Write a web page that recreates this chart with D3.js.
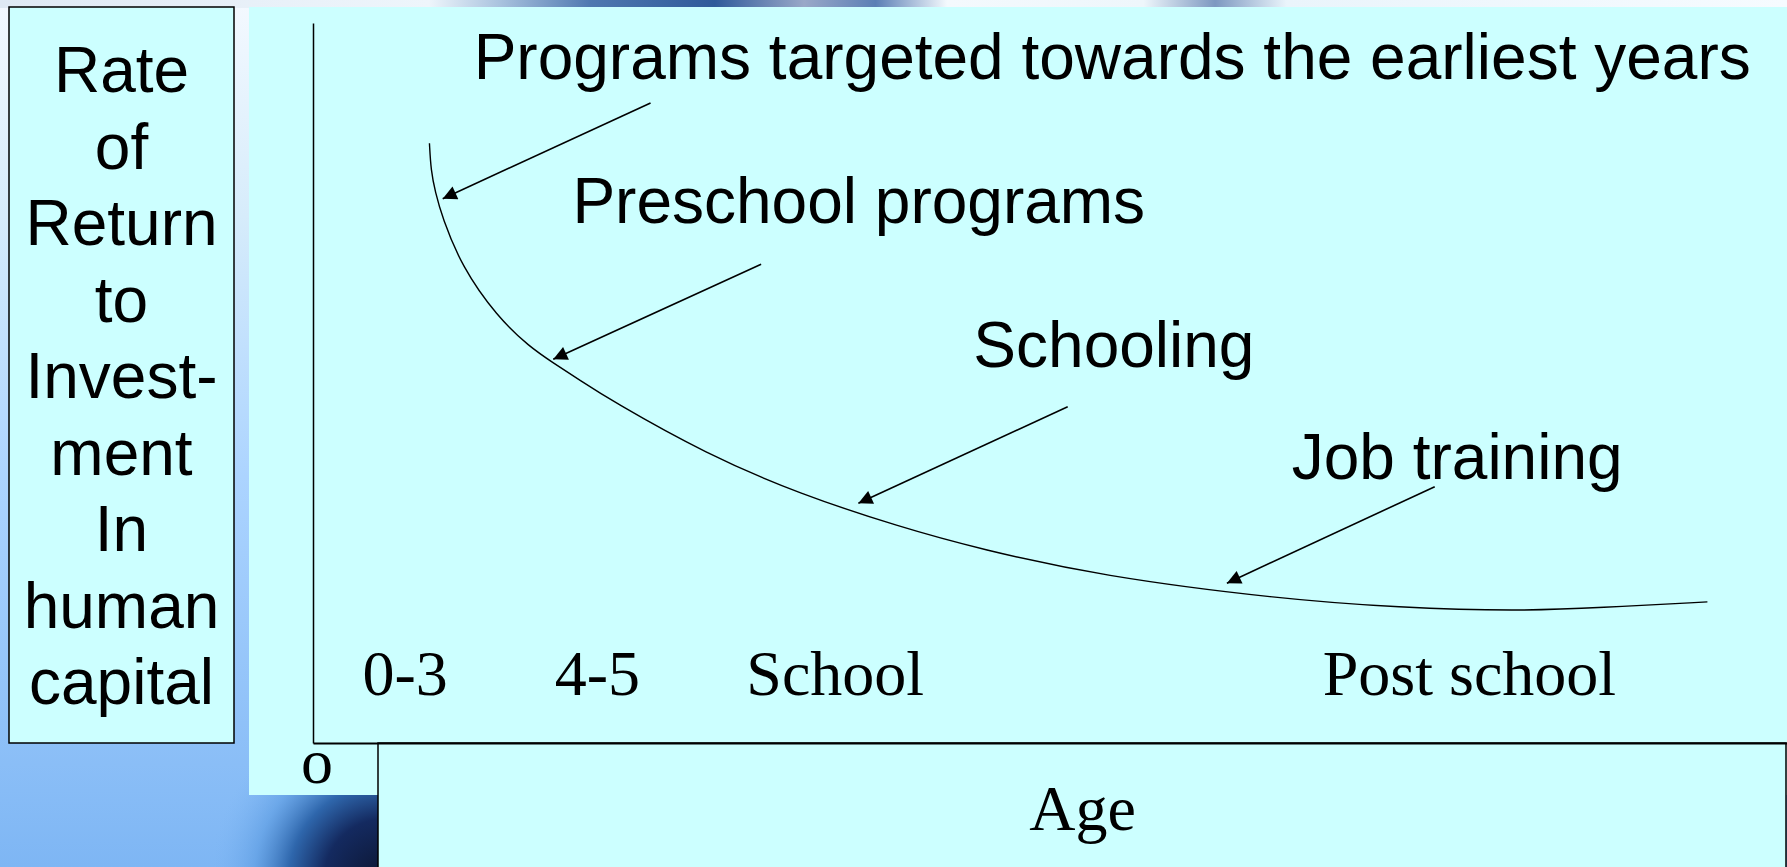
<html>
<head>
<meta charset="utf-8" />
<script src="https://cdn.jsdelivr.net/npm/d3@7"></script>
<style>
body { margin: 0; overflow: hidden; }
.sans { font-family: "Liberation Sans", Arial, sans-serif; font-size: 64px; fill: #000; }
.serif { font-family: "Liberation Serif", "Times New Roman", serif; font-size: 64px; fill: #000; }
</style>
</head>
<body>
<svg id="chart" width="1787" height="867"></svg>
<script>

// curve: position along the age axis (0-100) vs rate of return (0-100)
var curveAge  = [7.9, 8.0, 8.3, 8.75, 10.1, 12.5, 14.7, 16.3, 18.1, 20.2, 26.7, 33.0, 39.8, 45.3, 53.4, 65.6, 73.7, 81.7, 87.3, 94.6];
var curveRate = [83.3, 79.5, 76.5, 73.1, 66.1, 59.2, 55.0, 52.8, 50.4, 47.6, 40.1, 34.6, 30.0, 26.9, 23.2, 20.0, 18.8, 18.3, 18.8, 19.6];

var stageLabels = ["0-3", "4-5", "School", "Post school"];
var stageAges   = [3.35, 16.4, 29.4, 68.5];

var noteLabels = ["Programs targeted towards the earliest years", "Preschool programs", "Schooling", "Job training"];
var noteAge    = [10.9, 17.6, 44.8, 66.4];
var noteRate   = [92.2, 72.2, 52.2, 36.7];
var arrowFromAge  = [22.9, 30.4, 51.2, 76.1];
var arrowFromRate = [88.9, 66.5, 46.7, 35.6];
var arrowToAge    = [8.8, 16.3, 37.0, 62.0];
var arrowToRate   = [75.6, 53.3, 33.3, 22.2];

var yTitleLines = ["Rate", "of", "Return", "to", "Invest-", "ment", "In", "human", "capital"];
var xTitle = "Age";
var originLabel = "o";

var W = 1787, H = 867;
var plot = {left: 313, right: 1787, top: 23, bottom: 743};
var fillColor = "#ccffff";

var svg = d3.select("#chart");
var defs = svg.append("defs");

// slide background
var bg = defs.append("linearGradient").attr("id", "bgGrad")
    .attr("x1", 0).attr("y1", 0).attr("x2", 0).attr("y2", 1);
[["0%", "#f4f9ff"], ["25%", "#d6ecfb"], ["55%", "#acd4ff"], ["100%", "#7eb6f4"]].forEach(function(s) {
    bg.append("stop").attr("offset", s[0]).attr("stop-color", s[1]);
});
var topGrad = defs.append("linearGradient").attr("id", "topGrad");
[["0%", "#dfe9f4"], ["24%", "#eef5fb"], ["28%", "#a9c2de"], ["33%", "#4f78b0"], ["40%", "#2f5a9a"],
 ["45%", "#9aa8c8"], ["49%", "#5b7fb5"], ["53%", "#f4f9fd"], ["64%", "#eef6fb"], ["68%", "#7d98c0"],
 ["72%", "#eaf4fb"], ["100%", "#f6fbff"]].forEach(function(s) {
    topGrad.append("stop").attr("offset", s[0]).attr("stop-color", s[1]);
});
var dark = defs.append("radialGradient").attr("id", "darkGrad")
    .attr("gradientUnits", "userSpaceOnUse")
    .attr("cx", 385).attr("cy", 880).attr("r", 175);
[["0%", "#0c1530", 1], ["35%", "#142a60", 1], ["55%", "#2a62a8", 0.95], ["75%", "#5a9ae0", 0.6], ["100%", "#7eb6f4", 0]].forEach(function(s) {
    dark.append("stop").attr("offset", s[0]).attr("stop-color", s[1]).attr("stop-opacity", s[2]);
});

svg.append("rect").attr("width", W).attr("height", H).attr("fill", "url(#bgGrad)");
svg.append("rect").attr("width", W).attr("height", 8).attr("fill", "url(#topGrad)");
svg.append("rect").attr("width", W).attr("height", H).attr("fill", "url(#darkGrad)");

// panels
svg.append("rect").attr("x", 249).attr("y", 7).attr("width", W - 249).attr("height", 788)
    .attr("fill", fillColor);
svg.append("rect").attr("x", 9).attr("y", 7).attr("width", 225).attr("height", 736)
    .attr("fill", fillColor).attr("stroke", "#000").attr("stroke-width", 1.5);
svg.append("rect").attr("x", 378).attr("y", plot.bottom).attr("width", W - 378 - 1).attr("height", 160)
    .attr("fill", fillColor).attr("stroke", "#000").attr("stroke-width", 1.5);

var x = d3.scaleLinear().domain([0, 100]).range([plot.left, plot.right]);
var y = d3.scaleLinear().domain([0, 100]).range([plot.bottom, plot.top]);

svg.append("g")
    .attr("transform", "translate(0," + plot.bottom + ")")
    .call(d3.axisBottom(x).tickValues([]).tickSizeOuter(0))
    .select(".domain").attr("stroke-width", 2);
svg.append("g")
    .attr("transform", "translate(" + plot.left + ",0)")
    .call(d3.axisLeft(y).tickValues([]).tickSizeOuter(0))
    .select(".domain").attr("stroke-width", 1.5);

// y title box
svg.append("g").selectAll("text")
    .data(yTitleLines)
    .enter().append("text")
    .attr("class", "sans")
    .attr("x", 121.5)
    .attr("y", function(d, i) { return 92 + i * 76.5; })
    .attr("text-anchor", "middle")
    .text(function(d) { return d; });

svg.append("text").attr("class", "serif")
    .attr("x", x(0) + 4).attr("y", 783)
    .attr("text-anchor", "middle")
    .text(originLabel);

svg.append("text").attr("class", "serif")
    .attr("x", (378 + W) / 2).attr("y", 830)
    .attr("text-anchor", "middle")
    .text(xTitle);

// stage labels along the age axis
svg.append("g").selectAll("text")
    .data(stageLabels)
    .enter().append("text")
    .attr("class", "serif")
    .attr("x", function(d, i) { return x(stageAges[i]); })
    .attr("y", 695)
    .text(function(d) { return d; });

// the curve
var line = d3.line()
    .curve(d3.curveBasis)
    .x(function(d) { return x(d[0]); })
    .y(function(d) { return y(d[1]); });

svg.append("path")
    .datum(curveAge.map(function(a, i) { return [a, curveRate[i]]; }))
    .attr("fill", "none")
    .attr("stroke", "#000")
    .attr("stroke-width", 1.4)
    .attr("d", line);

// annotations
defs.append("marker").attr("id", "head")
    .attr("viewBox", "0 0 10 10")
    .attr("refX", 10).attr("refY", 5)
    .attr("markerWidth", 18).attr("markerHeight", 14)
    .attr("markerUnits", "userSpaceOnUse")
    .attr("orient", "auto")
    .append("path").attr("d", "M0,0L10,5L0,10z").attr("fill", "#000");

svg.append("g").selectAll("line")
    .data(noteLabels)
    .enter().append("line")
    .attr("x1", function(d, i) { return x(arrowFromAge[i]); })
    .attr("y1", function(d, i) { return y(arrowFromRate[i]); })
    .attr("x2", function(d, i) { return x(arrowToAge[i]); })
    .attr("y2", function(d, i) { return y(arrowToRate[i]); })
    .attr("stroke", "#000")
    .attr("stroke-width", 1.6)
    .attr("marker-end", "url(#head)");

svg.append("g").selectAll("text")
    .data(noteLabels)
    .enter().append("text")
    .attr("class", "sans")
    .attr("x", function(d, i) { return x(noteAge[i]); })
    .attr("y", function(d, i) { return y(noteRate[i]); })
    .text(function(d) { return d; });

</script>
</body>
</html>
